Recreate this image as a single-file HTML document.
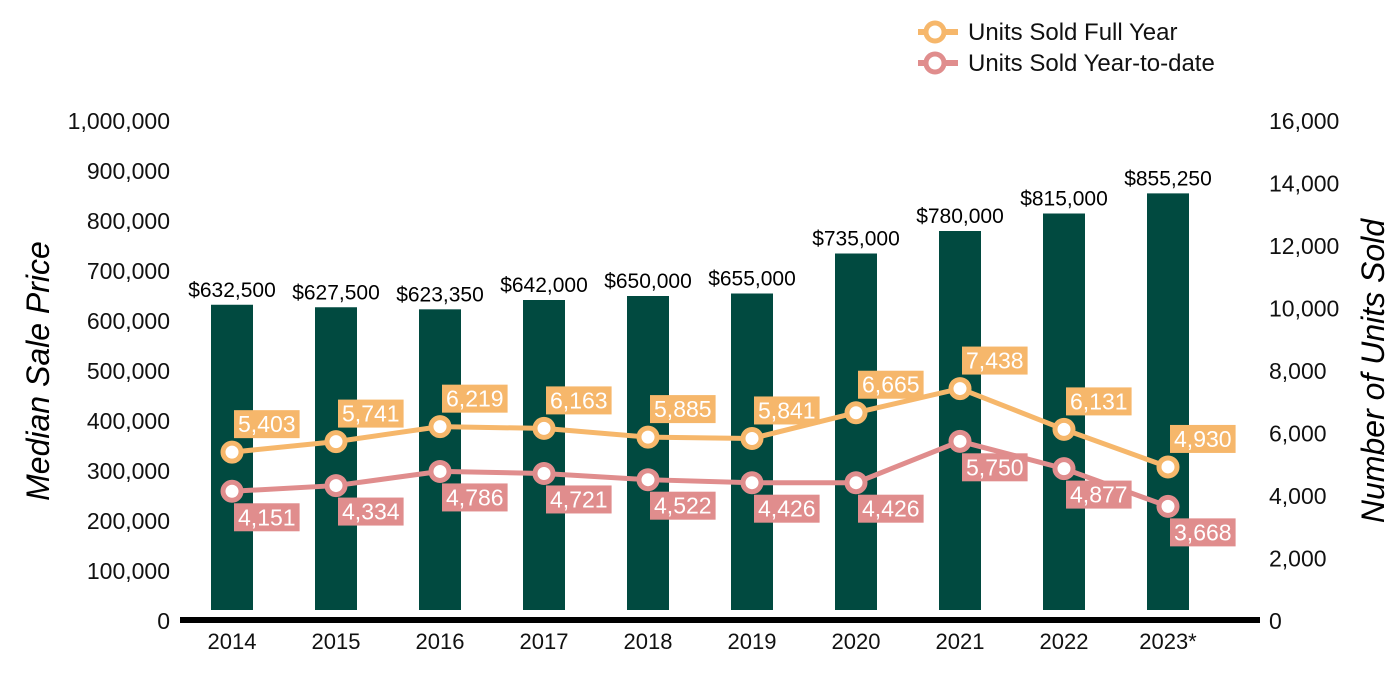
<!DOCTYPE html>
<html><head><meta charset="utf-8"><style>
body{margin:0;background:#fff;}
svg{display:block;font-family:"Liberation Sans",Arial,sans-serif;}
</style></head><body>
<svg id="chart" width="1400" height="700" viewBox="0 0 1400 700" xmlns="http://www.w3.org/2000/svg">
<g id="legend">
 <g>
  <line x1="918" y1="32" x2="958" y2="32" stroke="#F6B76B" stroke-width="6"/>
  <circle cx="935" cy="32" r="9" fill="#fff" stroke="#F6B76B" stroke-width="5"/>
  <text x="968" y="40" font-size="24" fill="#111">Units Sold Full Year</text>
 </g>
 <g>
  <line x1="918" y1="63" x2="958" y2="63" stroke="#E08D8D" stroke-width="6"/>
  <circle cx="935" cy="63" r="9" fill="#fff" stroke="#E08D8D" stroke-width="5"/>
  <text x="968" y="71" font-size="24" fill="#111">Units Sold Year-to-date</text>
 </g>
</g>
<text transform="translate(49,371) rotate(-90)" text-anchor="middle" font-size="32" font-style="italic" fill="#000">Median Sale Price</text>
<text transform="translate(1384,371) rotate(-90)" text-anchor="middle" font-size="32" font-style="italic" fill="#000">Number of Units Sold</text>
<g id="ticksL"></g>
<g id="ticksR"></g>
<g id="bars"></g>
<line x1="180" y1="620" x2="1260" y2="620" stroke="#000" stroke-width="6"/>
<g id="xlabels"></g>
<g id="lines"></g>
</svg>
<script>
const categories = ["2014","2015","2016","2017","2018","2019","2020","2021","2022","2023*"];
const medianPrice = [632500,627500,623350,642000,650000,655000,735000,780000,815000,855250];
const unitsFullYear = [5403,5741,6219,6163,5885,5841,6665,7438,6131,4930];
const unitsYTD = [4151,4334,4786,4721,4522,4426,4426,5750,4877,3668];
const leftTicks = [0,100000,200000,300000,400000,500000,600000,700000,800000,900000,1000000];
const rightTicks = [0,2000,4000,6000,8000,10000,12000,14000,16000];

const NS = "http://www.w3.org/2000/svg";
const y0 = 621, plotH = 500;
const yL = v => y0 - v / 1000000 * plotH;
const yR = v => y0 - v / 16000 * plotH;
const xC = i => 232 + i * 104;
const fmt = v => v.toLocaleString("en-US");
function mk(tag, attrs, parent, txt){
  const e = document.createElementNS(NS, tag);
  for (const k in attrs) e.setAttribute(k, attrs[k]);
  if (txt !== undefined) e.textContent = txt;
  parent.appendChild(e); return e;
}
const gL = document.getElementById("ticksL"), gR = document.getElementById("ticksR");
leftTicks.forEach(t => {
  const e = mk("text", {x:170, y:yL(t)+8, "text-anchor":"end", "font-size":23, fill:"#111"}, gL, fmt(t));
  
  
});
rightTicks.forEach(t => {
  const e = mk("text", {x:1269, y:yR(t)+8, "font-size":23, fill:"#111"}, gR, fmt(t));
  
  
});
const gB = document.getElementById("bars"), gX = document.getElementById("xlabels");
categories.forEach((c, i) => {
  const top = yL(medianPrice[i]);
  const r = mk("rect", {x:xC(i)-21, y:top, width:42, height:610-top, fill:"#014A40"}, gB);
  
  
  const l = mk("text", {x:xC(i), y:top-8, "text-anchor":"middle", "font-size":21, fill:"#000"}, gB, "$" + fmt(medianPrice[i]));
  
  
  const x = mk("text", {x:xC(i), y:649, "text-anchor":"middle", "font-size":22, fill:"#111"}, gX, c);
  
  
});
const gLines = document.getElementById("lines");
function series(vals, color, name, above){
  const g = mk("g", {}, gLines);
  
  
  const pts = vals.map((v, i) => xC(i) + "," + yR(v)).join(" ");
  mk("polyline", {points:pts, fill:"none", stroke:color, "stroke-width":5}, g);
  vals.forEach((v, i) => {
    const cx = xC(i), cy = yR(v);
    const c = mk("circle", {cx:cx, cy:cy, r:9, fill:"#fff", stroke:color, "stroke-width":5}, g);
    
    
    const txt = fmt(v);
    const w = 4 * 12.8 + 6.4 + 8;
    const by = above ? cy - 42 : cy + 12;
    const b = mk("rect", {x:cx+2, y:by, width:w, height:28, fill:color}, g);
    
    
    const t = mk("text", {x:cx+2+w/2, y:by+22, "text-anchor":"middle", "font-size":23, fill:"#fff"}, g, txt);
    
    
  });
}
series(unitsFullYear, "#F6B76B", "series-units-full-year", true);
series(unitsYTD, "#E08D8D", "series-units-ytd", false);
</script>
</body></html>
